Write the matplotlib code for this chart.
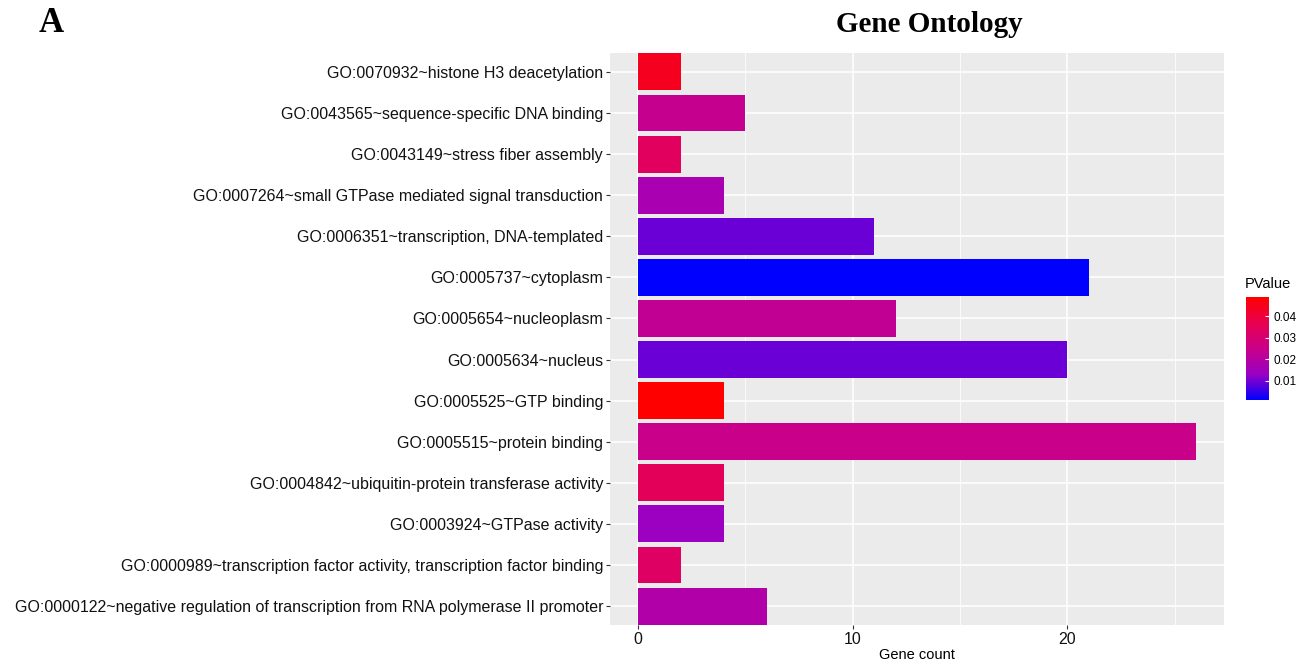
import matplotlib
matplotlib.use('Agg')
import matplotlib.pyplot as plt
import numpy as np
from matplotlib.colors import LinearSegmentedColormap, Normalize
from matplotlib.cm import ScalarMappable

# top to bottom as in the figure
terms = [
    'GO:0070932~histone H3 deacetylation',
    'GO:0043565~sequence-specific DNA binding',
    'GO:0043149~stress fiber assembly',
    'GO:0007264~small GTPase mediated signal transduction',
    'GO:0006351~transcription, DNA-templated',
    'GO:0005737~cytoplasm',
    'GO:0005654~nucleoplasm',
    'GO:0005634~nucleus',
    'GO:0005525~GTP binding',
    'GO:0005515~protein binding',
    'GO:0004842~ubiquitin-protein transferase activity',
    'GO:0003924~GTPase activity',
    'GO:0000989~transcription factor activity, transcription factor binding',
    'GO:0000122~negative regulation of transcription from RNA polymerase II promoter',
]
counts = [2, 5, 2, 4, 11, 21, 12, 20, 4, 26, 4, 4, 2, 6]
pvalues = [0.044, 0.024, 0.034, 0.017, 0.0095, 0.0012, 0.023, 0.0095,
           0.0488, 0.025, 0.035, 0.0135, 0.033, 0.019]
x_ticks = [0, 10, 20]
cbar_ticks = [0.01, 0.02, 0.03, 0.04]

# blue -> red, roughly like ggplot's Lab interpolation
cmap = LinearSegmentedColormap.from_list(
    'bluered', ['#0000FF', '#9A00C3', '#C90089', '#E80050', '#FF0000'])
norm = Normalize(vmin=min(pvalues), vmax=max(pvalues))

plt.rcParams['font.family'] = ['Liberation Sans', 'DejaVu Sans']

fig = plt.figure(figsize=(13.06, 6.63), dpi=100)
ax = fig.add_axes([610 / 1306, 1 - 625 / 663, 614 / 1306, 572 / 663])
ax.set_facecolor('#EBEBEB')

n = len(terms)
ypos = np.arange(n)[::-1]
ax.barh(ypos, counts, height=0.9, color=cmap(norm(np.array(pvalues))), zorder=3)

ax.set_xlim(-1.3, 27.3)
ax.set_ylim(-0.46, n - 1 + 0.46)
ax.set_yticks(ypos)
ax.set_yticklabels(terms, fontsize=11.5, color='#111111')
ax.set_xticks(x_ticks)
ax.set_xticklabels([str(t) for t in x_ticks], fontsize=11.5, color='#111111')
ax.set_xticks([5, 15, 25], minor=True)
ax.tick_params(axis='both', which='major', length=3, color='#333333', pad=2)
ax.tick_params(axis='both', which='minor', length=0)
ax.grid(which='major', color='white', linewidth=1.1, zorder=0)
ax.grid(which='minor', axis='x', color='white', linewidth=0.55, zorder=0)
for s in ax.spines.values():
    s.set_visible(False)
ax.set_xlabel('Gene count', fontsize=10.5, labelpad=1)

fig.text(929 / 1306, 1 - 24 / 663, 'Gene Ontology', ha='center', va='center',
         fontsize=21, fontweight='bold', family='Liberation Serif')
fig.text(51 / 1306, 1 - 24 / 663, 'A', ha='center', va='center',
         fontsize=25, fontweight='bold', family='Liberation Serif')

# colour bar legend
cax = fig.add_axes([1246 / 1306, 1 - 400 / 663, 23 / 1306, 103 / 663])
cb = fig.colorbar(ScalarMappable(norm=norm, cmap=cmap), cax=cax, ticks=cbar_ticks)
cb.outline.set_visible(False)
cb.ax.tick_params(labelsize=8.5, length=3, color='white', direction='in', pad=3)
cb.ax.set_yticklabels(['%.2f' % t for t in cbar_ticks])
fig.text(1245 / 1306, 1 - 284 / 663, 'PValue', ha='left', va='center', fontsize=10.5)

fig.savefig('out.png', dpi=100)
